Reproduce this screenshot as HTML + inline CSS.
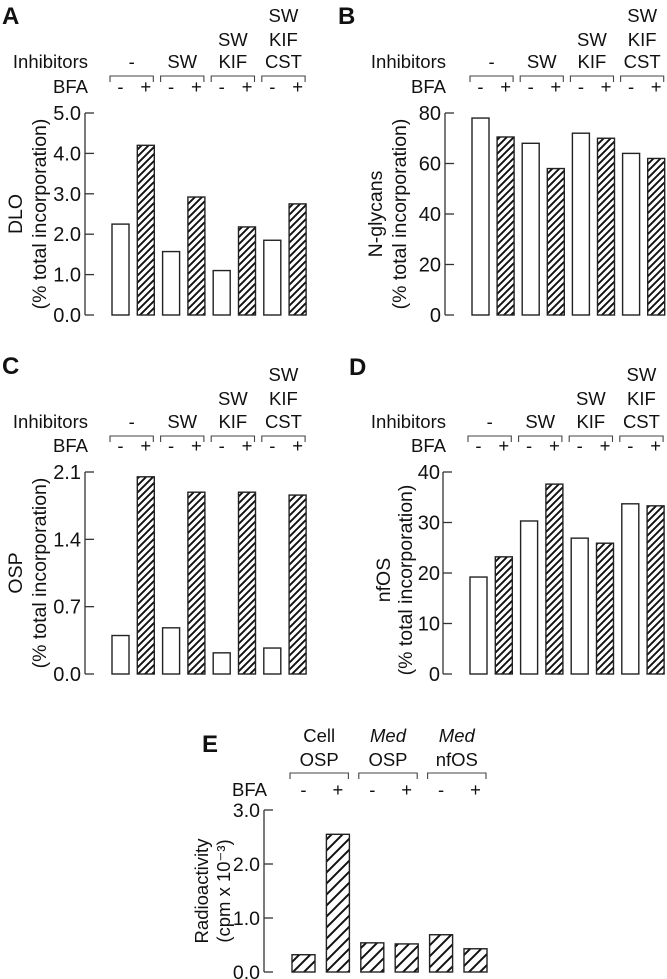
<!DOCTYPE html>
<html><head><meta charset="utf-8">
<style>
html,body{margin:0;padding:0;background:#fff;}
svg{display:block;font-family:"Liberation Sans",Arial,sans-serif;}
text{fill:#111;}
</style></head>
<body>
<svg id="fig" width="667" height="979" viewBox="0 0 667 979" xmlns="http://www.w3.org/2000/svg">
<defs>
<pattern id="hatch" patternUnits="userSpaceOnUse" width="7" height="7">
<path d="M-1,1 l2,-2 M0,7 l7,-7 M6,8 l2,-2" stroke="#111" stroke-width="1.9"/>
</pattern>
<pattern id="hatchE" patternUnits="userSpaceOnUse" width="11" height="11">
<path d="M-1,1 l2,-2 M0,11 l11,-11 M10,12 l2,-2" stroke="#111" stroke-width="2"/>
</pattern>
</defs>
</svg>
<script>
const inhibitorGroups = [["-"],["SW"],["SW","KIF"],["SW","KIF","CST"]];
const bfaLabels = ["-","+"];
const dloValues = [2.25, 4.2, 1.57, 2.92, 1.1, 2.18, 1.85, 2.75];
const nglyValues = [78, 70.5, 68, 58, 72, 70, 64, 62];
const ospValues = [0.4, 2.05, 0.48, 1.89, 0.22, 1.89, 0.27, 1.86];
const nfosValues = [19.2, 23.2, 30.3, 37.6, 26.9, 25.9, 33.7, 33.3];
const dloTicks = ["0.0","1.0","2.0","3.0","4.0","5.0"];
const nglyTicks = ["0","20","40","60","80"];
const ospTicks = ["0.0","0.7","1.4","2.1"];
const nfosTicks = ["0","10","20","30","40"];
const eGroups = [["Cell","OSP"],["Med","OSP"],["Med","nfOS"]];
const eValues = [0.32, 2.55, 0.54, 0.52, 0.69, 0.43];
const eTicks = ["0.0","1.0","2.0","3.0"];

const svg = document.getElementById('fig');
const NS = 'http://www.w3.org/2000/svg';
function mk(tag, attrs, parent){
  const e = document.createElementNS(NS, tag);
  for (const k in attrs) e.setAttribute(k, attrs[k]);
  (parent||svg).appendChild(e);
  return e;
}
function txt(s, x, y, anchor, size, parent, extra){
  const t = mk('text', Object.assign({x:x, y:y, 'text-anchor':anchor||'middle', 'font-size':size||18.5}, extra||{}), parent);
  t.textContent = s;
  return t;
}

function panel(o){
  const g = mk('g', {});
  
  
  const ymax = parseFloat(o.ticks[o.ticks.length-1]);
  const yScale = v => o.yBot - (v / ymax) * (o.yBot - o.yTop);
  const n = o.values.length;
  const perGroup = o.perGroup;
  const xBar = i => o.x0 + i * o.pitch;
  const L = txt(o.letter, o.letterX, o.letterY, 'start', 24, g, {'font-weight':'bold'});
  
  
  const ax = mk('path', {d:`M${o.axisX},${o.yTop} V${o.yBot}`, stroke:'#333', 'stroke-width':1.3, fill:'none'}, g);
  
  
  o.ticks.forEach(tl => {
    const y = yScale(parseFloat(tl));
    const tk = mk('path', {d:`M${o.axisX},${y} H${o.axisX+9}`, stroke:'#333', 'stroke-width':1.3}, g);
    
    
    const t = txt(tl, o.tickLabelX, y + 7, 'end', o.tickSize, g);
    
    
  });
  const ty = o.titleY || (o.yTop + o.yBot) / 2;
  o.title.forEach((line, k) => {
    const t = txt(line, 0, 0, 'middle', o.titleSize, g, {transform:`translate(${o.titleX[k]},${ty}) rotate(-90)`});
    
    
  });
  o.values.forEach((v, i) => {
    const y = yScale(v);
    const hatched = o.allHatched || (i % 2 === 1);
    const r = mk('rect', {x:xBar(i), y:y, width:o.bw, height:o.yBot - y, fill: hatched ? o.hatch : '#fff', stroke:'#222', 'stroke-width':1.4}, g);
    
    
  });
  const b = txt('BFA', o.labelRightX, o.bfaY, 'end', 18.5, g);
  
  
  for (let i = 0; i < n; i++) {
    const t = txt(bfaLabels[i % 2], xBar(i) + o.bw/2, o.bfaY, 'middle', 18.5, g);
    
    
  }
  if (o.inhibLabel) {
    const t = txt('Inhibitors', o.labelRightX, o.rowY[o.rowY.length-1], 'end', 18.5, g);
    
    
  }
  o.groups.forEach((lines, gi) => {
    const x1 = xBar(gi*perGroup) - 2, x2 = xBar(gi*perGroup + perGroup - 1) + o.bw - 1;
    const br = mk('path', {d:`M${x1},${o.brY+6} V${o.brY} H${x2} V${o.brY+6}`, stroke:'#444', 'stroke-width':1.1, fill:'none'}, g);
    
    
    const cx = (x1 + x2) / 2;
    const rows = o.rowY.slice(o.rowY.length - lines.length);
    lines.forEach((s, k) => {
      const t = txt(s, cx, rows[k], 'middle', 18.5, g, s === 'Med' ? {'font-style':'italic'} : {});
      
      
    });
  });
}

panel({name:'panel-a-dlo', letter:'A', letterX:2, letterY:24, values:dloValues, ticks:dloTicks, groups:inhibitorGroups, perGroup:2,
  x0:112, pitch:25.3, bw:17, axisX:85, yTop:113, yBot:315, tickLabelX:81, tickSize:20, titleSize:19.5, title:['DLO','(% total incorporation)'], titleX:[22,46],
  labelRightX:88, bfaY:93, brY:76, rowY:[22,46,68], inhibLabel:true, hatch:'url(#hatch)'});
panel({name:'panel-b-nglycans', letter:'B', letterX:338, letterY:24, values:nglyValues, ticks:nglyTicks, groups:inhibitorGroups, perGroup:2,
  x0:472, pitch:25.1, bw:17, axisX:445, yTop:113, yBot:315, tickLabelX:441, tickSize:20, titleSize:19.5, title:['N-glycans','(% total incorporation)'], titleX:[382,406],
  labelRightX:446, bfaY:93, brY:76, rowY:[22,46,68], inhibLabel:true, hatch:'url(#hatch)'});
panel({name:'panel-c-osp', letter:'C', letterX:2, letterY:374, values:ospValues, ticks:ospTicks, groups:inhibitorGroups, perGroup:2,
  x0:112, pitch:25.3, bw:17, axisX:85, yTop:472, yBot:674, tickLabelX:81, tickSize:20, titleSize:19.5, title:['OSP','(% total incorporation)'], titleX:[22,46],
  labelRightX:88, bfaY:452, brY:436, rowY:[381,405,428], inhibLabel:true, hatch:'url(#hatch)'});
panel({name:'panel-d-nfos', letter:'D', letterX:349, letterY:375, values:nfosValues, ticks:nfosTicks, groups:inhibitorGroups, perGroup:2,
  x0:470, pitch:25.3, bw:17, axisX:443, yTop:472, yBot:674, tickLabelX:440, tickSize:20, titleSize:19.5, title:['nfOS','(% total incorporation)'], titleX:[390,412],
  titleY:580, labelRightX:446, bfaY:452, brY:436, rowY:[381,405,428], inhibLabel:true, hatch:'url(#hatch)'});
panel({name:'panel-e-radioactivity', letter:'E', letterX:202, letterY:752, values:eValues, ticks:eTicks, groups:eGroups, perGroup:2,
  x0:292, pitch:34.4, bw:23, axisX:264, yTop:810, yBot:972, tickLabelX:260, tickSize:19.5, titleSize:18.5, title:['Radioactivity','(cpm x 10\u207B\u00B3)'], titleX:[208,230],
  labelRightX:267, bfaY:796, brY:773, rowY:[742,766], inhibLabel:false, allHatched:true, hatch:'url(#hatchE)'});
</script>
</body></html>
